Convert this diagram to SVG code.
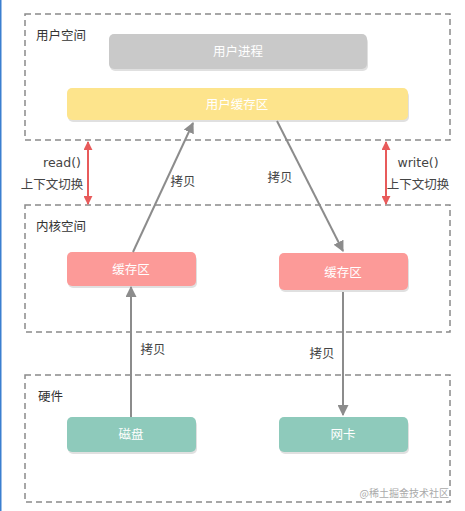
<svg xmlns="http://www.w3.org/2000/svg" width="465" height="511" viewBox="0 0 465 511">
<style>
.zone{fill:none;stroke:#8a8a8a;stroke-width:1.5;stroke-dasharray:6 4}
.zl{font-family:"Noto Sans CJK SC","Noto Sans",sans-serif;font-size:12.5px;fill:#333}
.nt{font-family:"Noto Sans CJK SC","Noto Sans",sans-serif;font-size:12.5px;fill:#fff;text-anchor:middle}
.lb{font-family:"Noto Sans CJK SC","Noto Sans",sans-serif;font-size:12.5px;fill:#444;text-anchor:middle}
.en{font-family:"DejaVu Sans","Noto Sans",sans-serif;font-size:12.5px;fill:#444;text-anchor:middle}
.sh{fill:#000;opacity:0.12}
.cp{stroke:#8c8c8c;stroke-width:2;fill:none}
.ctx{stroke:#e85b5b;stroke-width:2;fill:none}
</style>
<defs>
<marker id="ga" viewBox="0 0 10 10" refX="9" refY="5" markerWidth="5.5" markerHeight="5.5" orient="auto" markerUnits="strokeWidth"><path d="M0,0 L10,5 L0,10 z" fill="#8c8c8c"/></marker>
<marker id="ra" viewBox="0 0 10 10" refX="9" refY="5" markerWidth="4.5" markerHeight="4.5" orient="auto-start-reverse" markerUnits="strokeWidth"><path d="M0,0 L10,5 L0,10 z" fill="#e85b5b"/></marker>
</defs>
<rect width="465" height="511" fill="#fff"/>
<rect x="0" y="0" width="1.5" height="511" fill="#3b7fd0"/>
<g id="zones">
<rect class="zone" x="25" y="14" width="425" height="126"/>
<rect class="zone" x="25" y="205" width="425" height="127"/>
<rect class="zone" x="25" y="375" width="425" height="127"/>
<text class="zl" x="36" y="40">用户空间</text>
<text class="zl" x="36" y="231">内核空间</text>
<text class="zl" x="38" y="401">硬件</text>
</g>
<g id="user-process">
<rect class="sh" x="110" y="37" width="258" height="34" rx="5"/>
<rect x="109" y="34" width="258" height="35" rx="5" fill="#c9c9c9"/>
<text class="nt" x="238" y="56">用户进程</text>
</g>
<g id="user-buffer">
<rect class="sh" x="68" y="91" width="341" height="31" rx="5"/>
<rect x="67" y="88" width="341" height="32" rx="5" fill="#fde48c"/>
<text class="nt" x="237" y="109">用户缓存区</text>
</g>
<g id="kernel-buffer-left">
<rect class="sh" x="68" y="255" width="129" height="33" rx="5"/>
<rect x="67" y="252" width="129" height="34" rx="5" fill="#fc9a98"/>
<text class="nt" x="131" y="274">缓存区</text>
</g>
<g id="kernel-buffer-right">
<rect class="sh" x="280" y="256" width="129" height="36" rx="5"/>
<rect x="279" y="253" width="129" height="37" rx="5" fill="#fc9a98"/>
<text class="nt" x="343" y="277">缓存区</text>
</g>
<g id="disk">
<rect class="sh" x="68" y="420" width="129" height="34" rx="5"/>
<rect x="67" y="417" width="129" height="35" rx="5" fill="#8ecabb"/>
<text class="nt" x="131" y="439">磁盘</text>
</g>
<g id="nic">
<rect class="sh" x="280" y="420" width="129" height="34" rx="5"/>
<rect x="279" y="417" width="129" height="35" rx="5" fill="#8ecabb"/>
<text class="nt" x="343" y="439">网卡</text>
</g>
<g id="connectors">
<line class="cp" x1="133" y1="252" x2="193" y2="123" marker-end="url(#ga)"/>
<line class="cp" x1="277" y1="121" x2="343" y2="251" marker-end="url(#ga)"/>
<line class="cp" x1="131" y1="417" x2="131" y2="287" marker-end="url(#ga)"/>
<line class="cp" x1="343" y1="292" x2="343" y2="415" marker-end="url(#ga)"/>
<line class="ctx" x1="88" y1="142" x2="88" y2="204" marker-start="url(#ra)" marker-end="url(#ra)"/>
<line class="ctx" x1="386" y1="142" x2="386" y2="204" marker-start="url(#ra)" marker-end="url(#ra)"/>
<text class="lb" x="183" y="186">拷贝</text>
<text class="lb" x="280" y="182">拷贝</text>
<text class="lb" x="153" y="354">拷贝</text>
<text class="lb" x="322" y="358">拷贝</text>
<text class="en" x="62" y="167">read()</text>
<text class="lb" x="52" y="189">上下文切换</text>
<text class="en" x="418" y="167">write()</text>
<text class="lb" x="418" y="189">上下文切换</text>
</g>
<text x="449" y="497" text-anchor="end" font-family="Noto Sans CJK SC,sans-serif" font-size="10" fill="#aaa">@稀土掘金技术社区</text>
</svg>
